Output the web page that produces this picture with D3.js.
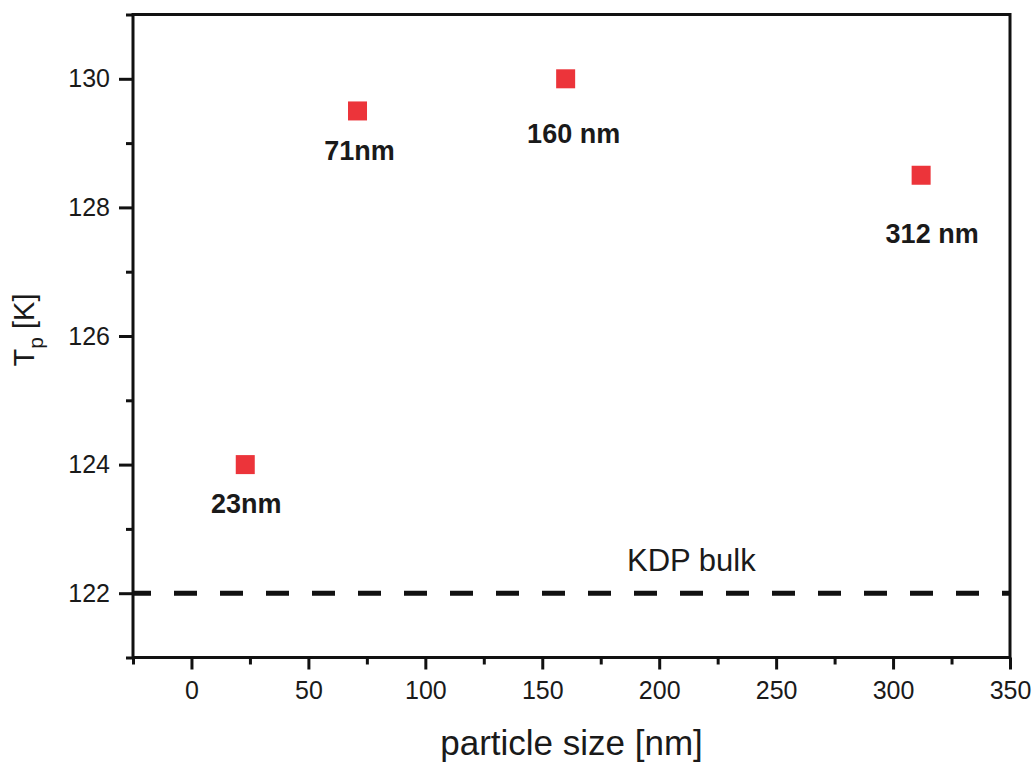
<!DOCTYPE html>
<html>
<head>
<meta charset="utf-8">
<script src="https://cdn.jsdelivr.net/npm/d3@7"></script>
<style>
  body { margin: 0; background: #fff; }
  svg text { font-family: "Liberation Sans", Arial, sans-serif; fill: #1a1a1a; }
</style>
</head>
<body>
<div id="chart"></div>
<script>
// data
const sizes = [23, 71, 160, 312];          // particle size [nm]
const tp = [124, 129.5, 130, 128.5];       // Tp [K]
const pointLabels = ['23nm', '71nm', '160 nm', '312 nm'];
const bulkTp = 122;
const bulkLabel = 'KDP bulk';

const xMajor = [0, 50, 100, 150, 200, 250, 300, 350];
const xMinor = [-25, 25, 75, 125, 175, 225, 275, 325];
const yMajor = [122, 124, 126, 128, 130];
const yMinor = [121, 123, 125, 127, 129, 131];

// label placement (pixel offsets from the marker), layout only
const labelDx = [1, 2, 8, 11];
const labelDy = [48, 49, 64, 68];

const width = 1035;
const height = 765;
const plot = { left: 133, right: 1010, top: 14.5, bottom: 657.5 };

const svg = d3.select('#chart')
  .append('svg')
  .attr('width', width)
  .attr('height', height);

const x = d3.scaleLinear().domain([-25, 350]).range([plot.left, plot.right]);
const y = d3.scaleLinear().domain([121, 131]).range([plot.bottom, plot.top]);

// frame
svg.append('rect')
  .attr('x', plot.left)
  .attr('y', plot.top)
  .attr('width', plot.right - plot.left)
  .attr('height', plot.bottom - plot.top)
  .attr('fill', 'none')
  .attr('stroke', '#111')
  .attr('stroke-width', 3);

const styleTicks = (g) => {
  g.select('.domain').remove();
  g.selectAll('.tick line').attr('stroke', '#111').attr('stroke-width', 3);
};

const styleLabels = (g) => g.selectAll('.tick text')
  .attr('font-size', 25)
  .attr('font-family', '"Liberation Sans", Arial, sans-serif')
  .attr('fill', '#1a1a1a');

// x axis
svg.append('g')
  .attr('transform', `translate(0, ${plot.bottom})`)
  .call(d3.axisBottom(x).tickValues(xMinor).tickSize(7).tickFormat(''))
  .call(styleTicks);

svg.append('g')
  .attr('transform', `translate(0, ${plot.bottom})`)
  .call(d3.axisBottom(x).tickValues(xMajor).tickSize(12).tickPadding(12))
  .call(styleTicks)
  .call(styleLabels);

// y axis
svg.append('g')
  .attr('transform', `translate(${plot.left}, 0)`)
  .call(d3.axisLeft(y).tickValues(yMinor).tickSize(7).tickFormat(''))
  .call(styleTicks);

svg.append('g')
  .attr('transform', `translate(${plot.left}, 0)`)
  .call(d3.axisLeft(y).tickValues(yMajor).tickSize(14).tickPadding(9))
  .call(styleTicks)
  .call(styleLabels);

// KDP bulk dashed line
svg.append('line')
  .attr('x1', x(-25))
  .attr('x2', x(350))
  .attr('y1', y(bulkTp))
  .attr('y2', y(bulkTp))
  .attr('stroke', '#111')
  .attr('stroke-width', 5)
  .attr('stroke-dasharray', '23 23')
  .attr('stroke-dashoffset', 5);

svg.append('text')
  .attr('x', 627)
  .attr('y', y(bulkTp) - 22)
  .attr('font-size', 31)
  .text(bulkLabel);

// points
const pts = sizes.map((s, i) => ({ s, t: tp[i], label: pointLabels[i], dx: labelDx[i], dy: labelDy[i] }));
const msize = 19;

svg.append('g')
  .selectAll('rect')
  .data(pts)
  .enter()
  .append('rect')
  .attr('x', (d) => x(d.s) - msize / 2)
  .attr('y', (d) => y(d.t) - msize / 2)
  .attr('width', msize)
  .attr('height', msize)
  .attr('fill', '#ec343a');

svg.append('g')
  .selectAll('text')
  .data(pts)
  .enter()
  .append('text')
  .attr('x', (d) => x(d.s) + d.dx)
  .attr('y', (d) => y(d.t) + d.dy)
  .attr('text-anchor', 'middle')
  .attr('font-size', 27)
  .attr('font-weight', 'bold')
  .attr('fill', '#111')
  .text((d) => d.label);

// axis titles
svg.append('text')
  .attr('x', (plot.left + plot.right) / 2)
  .attr('y', 755)
  .attr('text-anchor', 'middle')
  .attr('font-size', 35)
  .text('particle size [nm]');

const yt = svg.append('text')
  .attr('transform', 'translate(34, 330) rotate(-90)')
  .attr('text-anchor', 'middle')
  .attr('font-size', 29);
yt.append('tspan').text('T');
yt.append('tspan').attr('font-size', 21).attr('dy', 9).text('p');
yt.append('tspan').attr('dy', -9).text(' [K]');
</script>
</body>
</html>
